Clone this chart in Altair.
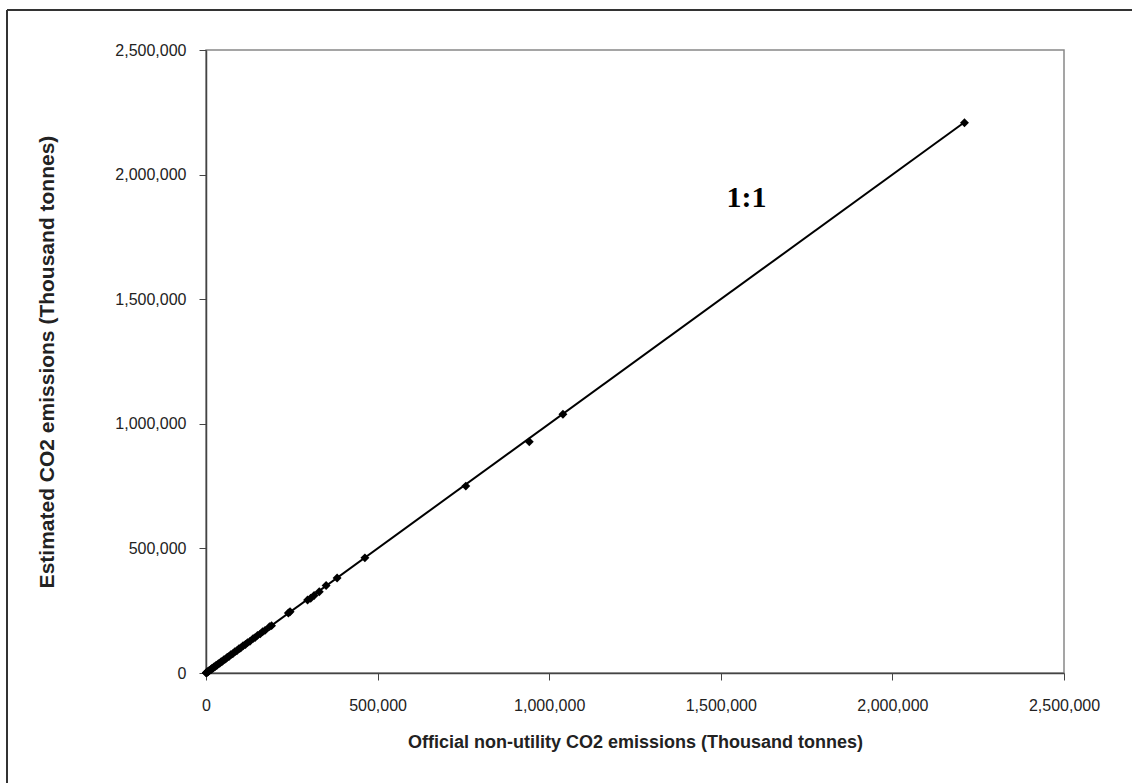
import altair as alt
import pandas as pd

official = [2210000, 1040000, 942000, 757000, 463000, 382000, 350000, 330000,
            315000, 305000, 296000, 245000, 240000, 191000, 185000, 172000,
            165000, 158000, 150000, 143000, 137000, 128000, 121000, 115000,
            108000, 101000, 96000, 90000, 84000, 78000, 72000, 67000, 62000,
            57000, 52000, 48000, 44000, 40000, 36000, 32000, 29000, 26000,
            23000, 20000, 17000, 15000, 13000, 11000, 9000, 7500, 6000, 4500,
            3000, 2000, 1000, 500]
estimated = [2208000, 1038000, 928000, 750000, 462000, 381000, 351000, 326000,
             311000, 300000, 293000, 246000, 241000, 190000, 186000, 171000,
             166000, 157000, 151000, 142000, 138000, 127000, 122000, 114000,
             109000, 100000, 97000, 89000, 85000, 77000, 73000, 66000, 63000,
             56000, 53000, 47000, 45000, 39000, 37000, 31000, 30000, 25000,
             24000, 19000, 18000, 14000, 13500, 10500, 9500, 7000, 6200, 4300,
             3100, 1900, 1050, 480]

line_x = [0, 2210000]
line_y = [0, 2210000]

label_text = ["1:1"]
label_x = [1575000]
label_y = [1905000]

axis_ticks = [0, 500000, 1000000, 1500000, 2000000, 2500000]

pts = pd.DataFrame({"x": official, "y": estimated})
ln = pd.DataFrame({"x": line_x, "y": line_y})
lab = pd.DataFrame({"x": label_x, "y": label_y, "t": label_text})

W, H = 858, 623

xs = alt.Scale(domain=[0, 2500000], nice=False, zero=True)
ys = alt.Scale(domain=[0, 2500000], nice=False, zero=True)

common = dict(grid=False, tickSize=7, labelFont="Liberation Sans", labelFontSize=16, labelColor="#222",
              titleFont="Liberation Sans", titleFontWeight="bold", titleColor="#222",
              domainColor="#444", tickColor="#444", domainWidth=1.5, labelFlush=False)

xaxis = alt.Axis(values=axis_ticks, format=",d", title="Official non-utility CO2 emissions (Thousand tonnes)",
                 labelPadding=17, titleFontSize=18, titleX=429, titleY=69, titleBaseline="middle",
                 titleAnchor="middle", **common)
yaxis = alt.Axis(values=axis_ticks, format=",d", title="Estimated CO2 emissions (Thousand tonnes)",
                 labelPadding=13, titleFontSize=21, titleX=-159, titleY=311.5, titleAngle=-90,
                 titleBaseline="middle", titleAlign="center", **common)

line = alt.Chart(ln).mark_line(color="black", strokeWidth=2).encode(
    x=alt.X("x:Q", scale=xs, axis=xaxis),
    y=alt.Y("y:Q", scale=ys, axis=yaxis),
)
points = alt.Chart(pts).mark_point(shape="diamond", filled=True, color="black", size=80, opacity=1).encode(
    x=alt.X("x:Q", scale=xs),
    y=alt.Y("y:Q", scale=ys),
)
text = alt.Chart(lab).mark_text(font="Liberation Serif", fontSize=30, fontWeight="bold", color="black").encode(
    x=alt.X("x:Q", scale=xs),
    y=alt.Y("y:Q", scale=ys),
    text="t:N",
)
frame_top = alt.Chart(lab).mark_rule(color="#333", strokeWidth=2).encode(
    x=alt.value(-199), x2=alt.value(940), y=alt.value(-40))
frame_left = alt.Chart(lab).mark_rule(color="#333", strokeWidth=2).encode(
    x=alt.value(-199), y=alt.value(-40), y2=alt.value(750))

chart = alt.layer(frame_top, frame_left, line, points, text).properties(
    width=W, height=H,
    autosize=alt.AutoSizeParams(type="none"),
    padding={"left": 206, "top": 50, "right": 68, "bottom": 110},
    background="white",
).configure_view(stroke="#888", strokeWidth=1.5)

chart.save("out.html", embed_options={"renderer": "svg", "actions": False})
